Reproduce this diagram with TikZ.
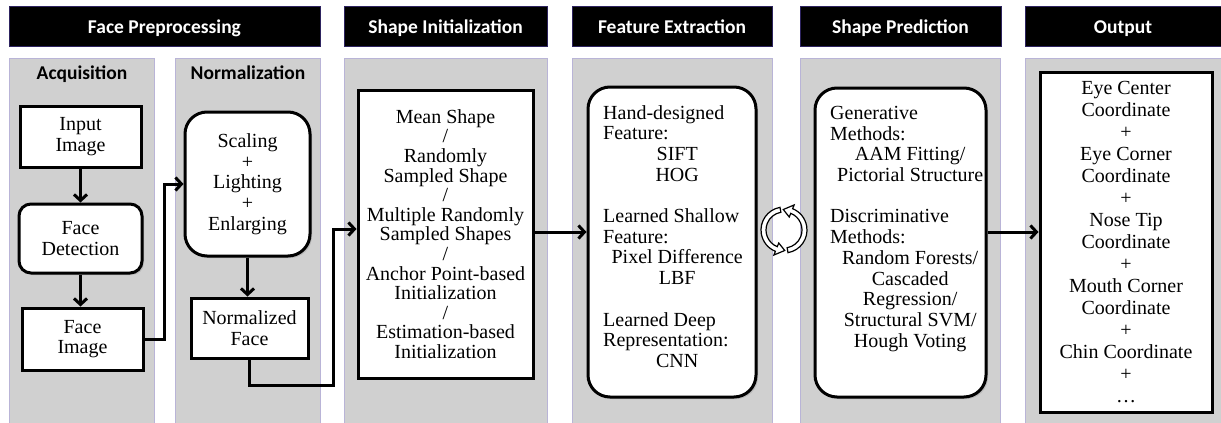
\documentclass[tikz,border=0pt]{standalone}
\usepackage{fontspec}
\setmainfont{Liberation Serif}
\newfontfamily\hdrfamily{Carlito}
\usetikzlibrary{arrows.meta,shadows}
\definecolor{panelgray}{RGB}{208,208,208}
\definecolor{panelline}{RGB}{185,180,215}
\definecolor{hdrline}{RGB}{45,35,95}
\newcommand{\ctra}[1]{\makebox[148pt][c]{#1}}
\newcommand{\ctrb}[1]{\makebox[160pt][c]{#1}}

\begin{document}
\begin{tikzpicture}[x=1pt,y=-1pt,
		hdr/.style={draw=hdrline,line width=1pt,fill=black,text=white,inner sep=0,minimum height=40pt,text height=16pt,text depth=2pt,font=\hdrfamily\bfseries\fontsize{19.5}{22}\selectfont},
		lbl/.style={inner sep=0,text height=16pt,text depth=2pt,font=\hdrfamily\bfseries\fontsize{19.5}{22}\selectfont},
		panel/.style={fill=panelgray,draw=panelline,line width=0.8pt},
		box/.style={draw,fill=white,line width=3pt,inner sep=0,align=center,font=\fontsize{20}{20.7}\selectfont,drop shadow={shadow xshift=2pt,shadow yshift=-2pt,opacity=0.3}},
		rbox/.style={box,rounded corners=12pt},
		txt/.style={inner sep=0,align=left,anchor=north west,font=\fontsize{20}{20.7}\selectfont},
		arr/.style={line width=3pt,-{Straight Barb[length=6pt,width=13pt]}},
		cyc/.style={draw,fill=white,line width=1.2pt}]
		\useasboundingbox (0,0) rectangle (1221,423);
		\draw [panel] (9,58) rectangle (154,423);
		\draw [panel] (175,58) rectangle (320,423);
		\draw [panel] (344,58) rectangle (547,423);
		\draw [panel] (572,58) rectangle (772,423);
		\draw [panel] (800,58) rectangle (1000,423);
		\draw [panel] (1025,58) rectangle (1221,423);
		\node [hdr,minimum width=311pt] (hprep) at (164.5,26) {Face Preprocessing};
		\node [hdr,minimum width=203pt] (hinit) at (445.5,26) {Shape Initialization};
		\node [hdr,minimum width=200pt] (hfeat) at (672,26) {Feature Extraction};
		\node [hdr,minimum width=201pt] (hpred) at (900.5,26) {Shape Prediction};
		\node [hdr,minimum width=196pt] (hout) at (1123,26) {Output};
		\node [lbl] (acq) at (82,72) {Acquisition};
		\node [lbl] (norm) at (248,72) {Normalization};
		\node [box,minimum width=121pt,minimum height=61pt] (inimg) at (80.5,136.5) {Input\\Image};
		\node [rbox,minimum width=123pt,minimum height=69pt] (facedet) at (80.5,238.5) {Face\\Detection};
		\node [box,minimum width=121pt,minimum height=62pt] (faceimg) at (82.5,339) {Face\\Image};
		\node [box,rounded corners=22pt,minimum width=125pt,minimum height=144pt] (scaling) at (247.5,184) {Scaling\\+\\Lighting\\+\\Enlarging};
		\node [box,minimum width=117pt,minimum height=60pt] (normface) at (249.5,328) {Normalized\\Face};
		\node [box,minimum width=175pt,minimum height=288pt,font=\fontsize{20}{19.6}\selectfont] (shapeinit) at (445.5,234) {Mean Shape\\/\\Randomly\\Sampled Shape\\/\\Multiple Randomly\\Sampled Shapes\\/\\Anchor Point-based\\Initialization\\/\\Estimation-based\\Initialization};
		\node [box,rounded corners=22pt,minimum width=168pt,minimum height=310pt] (featext) at (672,242) {};
		\node [txt] (feattxt) at (603,105) {Hand-designed\\Feature:\\\ctra{SIFT}\\\ctra{HOG}\\[20.7pt]Learned Shallow\\Feature:\\\ctra{Pixel Difference}\\\ctra{LBF}\\[20.7pt]Learned Deep\\Representation:\\\ctra{CNN}};
		\node [box,rounded corners=22pt,minimum width=171pt,minimum height=309pt] (shapepred) at (900.5,242.5) {};
		\node [txt] (predtxt) at (830,106) {Generative\\Methods:\\\ctrb{AAM Fitting/}\\\ctrb{Pictorial Structure}\\[20.7pt]Discriminative\\Methods:\\\ctrb{Random Forests/}\\\ctrb{Cascaded}\\\ctrb{Regression/}\\\ctrb{Structural SVM/}\\\ctrb{Hough Voting}};
		\node [box,minimum width=172pt,minimum height=340pt,font=\fontsize{20}{22}\selectfont] (output) at (1126,242) {Eye Center\\Coordinate\\+\\Eye Corner\\Coordinate\\+\\Nose Tip\\Coordinate\\+\\Mouth Corner\\Coordinate\\+\\Chin Coordinate\\+\\\dots};
		\draw [arr] (inimg.south) -- (inimg.south |- facedet.north);
		\draw [arr] (facedet.south) -- (facedet.south |- faceimg.north);
		\draw [arr] (faceimg.east) -- ++(20,0) |- (scaling.west);
		\draw [arr] (scaling.south) -- (scaling.south |- normface.north);
		\draw [arr] (normface.south) -- ++(0,26) -| ([xshift=-23pt,yshift=5pt]shapeinit.west) -- ([yshift=5pt]shapeinit.west);
		\draw [arr] ([yshift=2pt]shapeinit.east) -- ([yshift=2pt]shapeinit.east -| featext.west);
		\draw [arr] ([yshift=10.5pt]shapepred.east) -- ([yshift=10.5pt]shapepred.east -| output.west);
		\begin{scope}[shift={(784,230)},yscale=-1]
			\draw [cyc] (100:18) -- (100:23) arc[start angle=100,end angle=248,radius=23] -- (248:27) -- (272:20.5) -- (248:14) -- (248:18) arc[start angle=248,end angle=100,radius=18] -- cycle;
			\draw [cyc] (280:18) -- (280:23) arc[start angle=280,end angle=428,radius=23] -- (428:27) -- (452:20.5) -- (428:14) -- (428:18) arc[start angle=428,end angle=280,radius=18] -- cycle;
		\end{scope}
	\end{tikzpicture}
\end{document}
